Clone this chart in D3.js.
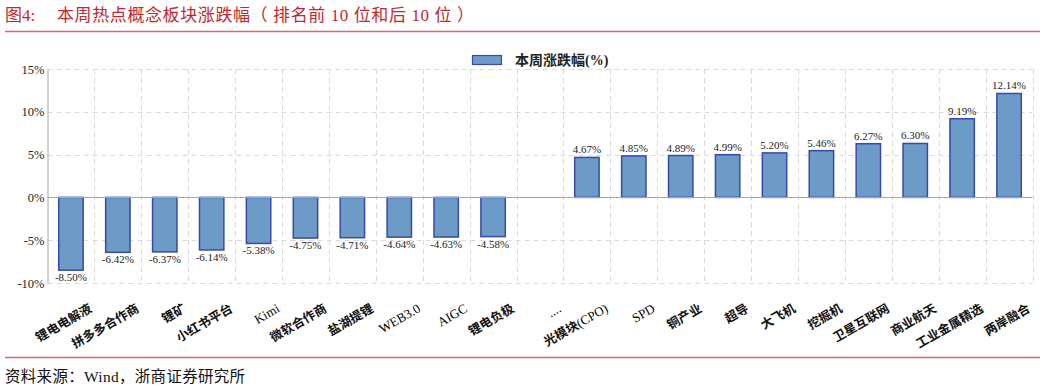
<!DOCTYPE html>
<html><head><meta charset="utf-8">
<script src="https://cdn.jsdelivr.net/npm/d3@7"></script>
<style>body{margin:0;background:#fff;}svg{display:block;}</style>
</head><body>
<svg id="c" width="1057" height="389"></svg>
<script>
const categories = ["锂电电解液","拼多多合作商","锂矿","小红书平台","Kimi","微软合作商","盐湖提锂","WEB3.0","AIGC","锂电负极","....","光模块(CPO)","SPD","铜产业","超导","大飞机","挖掘机","卫星互联网","商业航天","工业金属精选","两岸融合"];
const values = [-8.50,-6.42,-6.37,-6.14,-5.38,-4.75,-4.71,-4.64,-4.63,-4.58,null,4.67,4.85,4.89,4.99,5.20,5.46,6.27,6.30,9.19,12.14];
const yTicks = [-10,-5,0,5,10,15];
const seriesName = "本周涨跌幅(%)";
const titlePrefix = "图4:";
const titleText = "本周热点概念板块涨跌幅（ 排名前 10 位和后 10 位 ）";
const sourceText = "资料来源：Wind，浙商证券研究所";

const svg = d3.select("#c");
const red = "#c0282d";
const serif = "'Liberation Serif','Noto Sans CJK SC',serif";
const cjk = "'Liberation Serif','Noto Sans CJK SC',serif";

// title
svg.append("text").attr("x",5).attr("y",21).attr("fill",red)
  .style("font-family",cjk).style("font-size","17px").text(titlePrefix);
svg.append("text").attr("x",57).attr("y",21).attr("fill",red)
  .style("font-family",cjk).style("font-size","17px").style("letter-spacing","0.6px").attr("xml:space","preserve").text(titleText);
svg.append("line").attr("x1",5).attr("x2",1040).attr("y1",31.5).attr("y2",31.5).attr("stroke","#e06666").attr("stroke-width",1.5);
svg.append("line").attr("x1",5).attr("x2",1040).attr("y1",357.5).attr("y2",357.5).attr("stroke","#e06666").attr("stroke-width",1.5);
svg.append("text").attr("x",5).attr("y",382).attr("fill","#111")
  .style("font-family",cjk).style("font-size","15.5px").style("letter-spacing","0.3px").text(sourceText);

const x = d3.scaleBand().domain(categories).range([47.5,1032.5]).paddingInner(0.48).paddingOuter(0.24);
const xb = d3.scaleBand().domain(categories).range([47.5,1032.5]);
const y = d3.scaleLinear().domain([-10,15]).range([283,69]);

// gridlines
const grid = svg.append("g");
yTicks.filter(t=>t!==0).forEach(t=>{
  grid.append("line").attr("x1",47.5).attr("x2",1032.5).attr("y1",Math.round(y(t))+0.5).attr("y2",Math.round(y(t))+0.5)
    .attr("stroke","#d9d9d9").attr("stroke-dasharray","5,4");
});
categories.forEach((c,i)=>{
  const xx = Math.round(xb(c)+xb.bandwidth())+0.5;
  grid.append("line").attr("x1",xx).attr("x2",xx).attr("y1",69).attr("y2",283)
    .attr("stroke","#d9d9d9").attr("stroke-dasharray","5,4");
});

// y axis
const ya = svg.append("g").attr("transform","translate(47.5,0)")
  .call(d3.axisLeft(y).tickValues(yTicks).tickSize(0).tickPadding(3).tickFormat(d=>d+"%"));
ya.select(".domain").attr("stroke","#a6a6a6");
ya.selectAll("text").style("font-family",serif).style("font-size","12.5px").attr("fill","#222");

// bars
const data = categories.map((c,i)=>({c,v:values[i]})).filter(d=>d.v!==null);
svg.append("g").selectAll("rect").data(data).join("rect")
  .attr("x",d=>x(d.c)).attr("width",x.bandwidth())
  .attr("y",d=>y(Math.max(0,d.v))).attr("height",d=>Math.abs(y(d.v)-y(0)))
  .attr("fill","#6b9bc6").attr("stroke","#3949ab").attr("stroke-width",1.5);

// zero line
svg.append("line").attr("x1",47.5).attr("x2",1032.5).attr("y1",Math.round(y(0))+0.5).attr("y2",Math.round(y(0))+0.5)
  .attr("stroke","#a6a6a6");

// data labels
svg.append("g").selectAll("text").data(data).join("text")
  .attr("x",d=>x(d.c)+x.bandwidth()/2)
  .attr("y",d=>d.v>=0? y(d.v)-4 : y(d.v)+11)
  .attr("text-anchor","middle").style("font-family",serif).style("font-size","11px").attr("fill","#222")
  .text(d=>d.v.toFixed(2)+"%");

// x labels: CJK runs bold, Latin runs regular
const xl = svg.append("g").selectAll("text").data(categories).join("text")
  .attr("transform",c=>`translate(${xb(c)+xb.bandwidth()/2+22},${311}) rotate(-30)`)
  .attr("text-anchor","end").style("font-family",cjk).style("font-size","12.5px").attr("fill","#111");
xl.each(function(c){
  const runs = c.match(/[\u0000-\u00ff]+|[^\u0000-\u00ff]+/g);
  const t = d3.select(this);
  runs.forEach(r=>{
    const isCjk = /[^\u0000-\u00ff]/.test(r);
    t.append("tspan").style("font-weight", isCjk?"bold":"normal")
      .style("font-size", isCjk?"12.5px":"13px").attr("fill", isCjk?"#111":"#000").text(r);
  });
});

// legend
svg.append("rect").attr("x",472.5).attr("y",55.5).attr("width",29).attr("height",9)
  .attr("fill","#6b9bc6").attr("stroke","#3949ab").attr("stroke-width",1.2);
svg.append("text").attr("x",515).attr("y",65).style("font-family",cjk).style("font-size","14px").style("font-weight","bold").attr("fill","#222").text(seriesName);
</script>
</body></html>
